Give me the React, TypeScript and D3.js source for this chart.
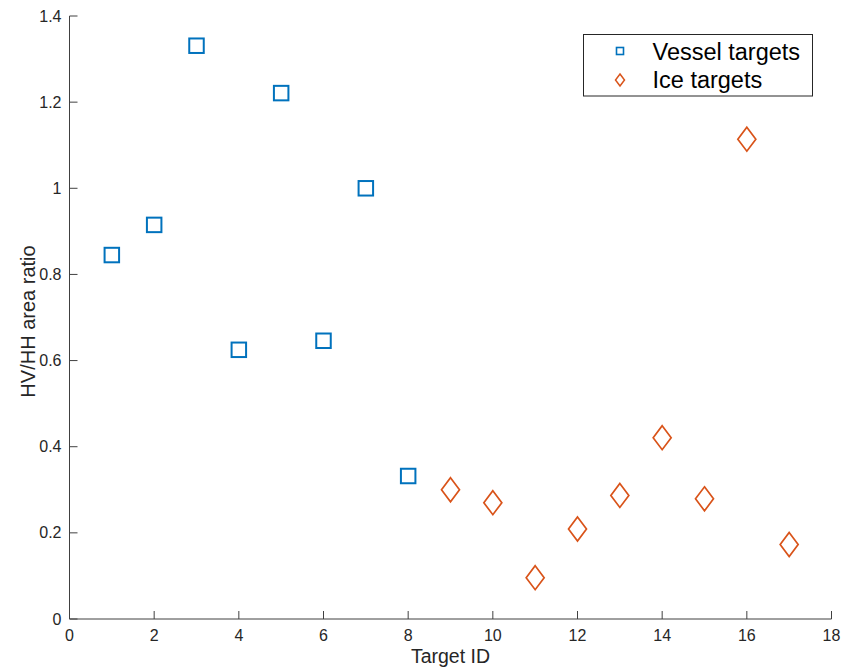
import React from "react";
import * as d3 from "d3";

const vesselIds = [1, 2, 3, 4, 5, 6, 7, 8];
const vesselRatios = [0.845, 0.915, 1.331, 0.625, 1.221, 0.646, 1.0, 0.332];
const iceIds = [9, 10, 11, 12, 13, 14, 15, 16, 17];
const iceRatios = [0.3, 0.27, 0.096, 0.209, 0.287, 0.421, 0.279, 1.114, 0.173];
const xTicks = [0, 2, 4, 6, 8, 10, 12, 14, 16, 18];
const yTicks = [0, 0.2, 0.4, 0.6, 0.8, 1, 1.2, 1.4];
const legendLabels = ["Vessel targets", "Ice targets"];

const W = 841;
const H = 670;
const left = 69.5;
const right = 831.5;
const top = 16;
const bottom = 619;
const blue = "#0072BD";
const orange = "#D95319";
const axisColor = "#404040";
const font = "'Liberation Sans', Arial, Helvetica, sans-serif";

export default function App() {
  const x = d3.scaleLinear().domain([0, 18]).range([left, right]);
  const y = d3.scaleLinear().domain([0, 1.4]).range([bottom, top]);
  const sq = 14.5;
  const dw = 9, dh = 12;
  const diamond = (cx: number, cy: number, w: number, h: number) =>
    `M${cx},${cy - h}L${cx + w},${cy}L${cx},${cy + h}L${cx - w},${cy}Z`;

  return (
    <svg width={W} height={H} style={{ position: "absolute", left: 0, top: 0 }} fontFamily={font}>
      <rect x={0} y={0} width={W} height={H} fill="#fff" />
      {/* axes */}
      <line x1={left} x2={right} y1={bottom} y2={bottom} stroke={axisColor} strokeWidth={1} />
      <line x1={left} x2={left} y1={top} y2={bottom} stroke={axisColor} strokeWidth={1} />
      {xTicks.map((t) => (
        <g key={"x" + t}>
          <line x1={x(t)} x2={x(t)} y1={bottom} y2={bottom - 8} stroke={axisColor} />
          <text x={x(t)} y={640.5} textAnchor="middle" fontSize={16} fill="#262626">
            {t}
          </text>
        </g>
      ))}
      {yTicks.map((t) => (
        <g key={"y" + t}>
          <line x1={left} x2={left + 8} y1={y(t)} y2={y(t)} stroke={axisColor} />
          <text x={left - 8} y={y(t)} dy="0.35em" textAnchor="end" fontSize={16} fill="#262626">
            {t}
          </text>
        </g>
      ))}
      <text x={(left + right) / 2} y={663} textAnchor="middle" fontSize={19.5} fill="#262626">
        Target ID
      </text>
      <text
        transform={`translate(35,${(top + bottom) / 2 + 4}) rotate(-90)`}
        textAnchor="middle"
        fontSize={20}
        fill="#262626"
      >
        HV/HH area ratio
      </text>
      {/* marks */}
      {vesselIds.map((id, i) => (
        <rect
          key={"v" + id}
          x={x(id) - sq / 2}
          y={y(vesselRatios[i]) - sq / 2}
          width={sq}
          height={sq}
          fill="none"
          stroke={blue}
          strokeWidth={2}
        />
      ))}
      {iceIds.map((id, i) => (
        <path
          key={"i" + id}
          d={diamond(x(id), y(iceRatios[i]), dw, dh)}
          fill="none"
          stroke={orange}
          strokeWidth={1.7}
        />
      ))}
      {/* legend */}
      <rect x={583.5} y={34.5} width={229} height={61.5} fill="#fff" stroke="#262626" strokeWidth={1} />
      <rect x={616.5} y={47.5} width={7} height={7} fill="none" stroke={blue} strokeWidth={1.6} />
      <path d={diamond(620, 80, 4.5, 6)} fill="none" stroke={orange} strokeWidth={1.5} />
      <text x={652.5} y={60} fontSize={23.5} fill="#000">
        {legendLabels[0]}
      </text>
      <text x={652.5} y={87.5} fontSize={23.5} fill="#000">
        {legendLabels[1]}
      </text>
    </svg>
  );
}
